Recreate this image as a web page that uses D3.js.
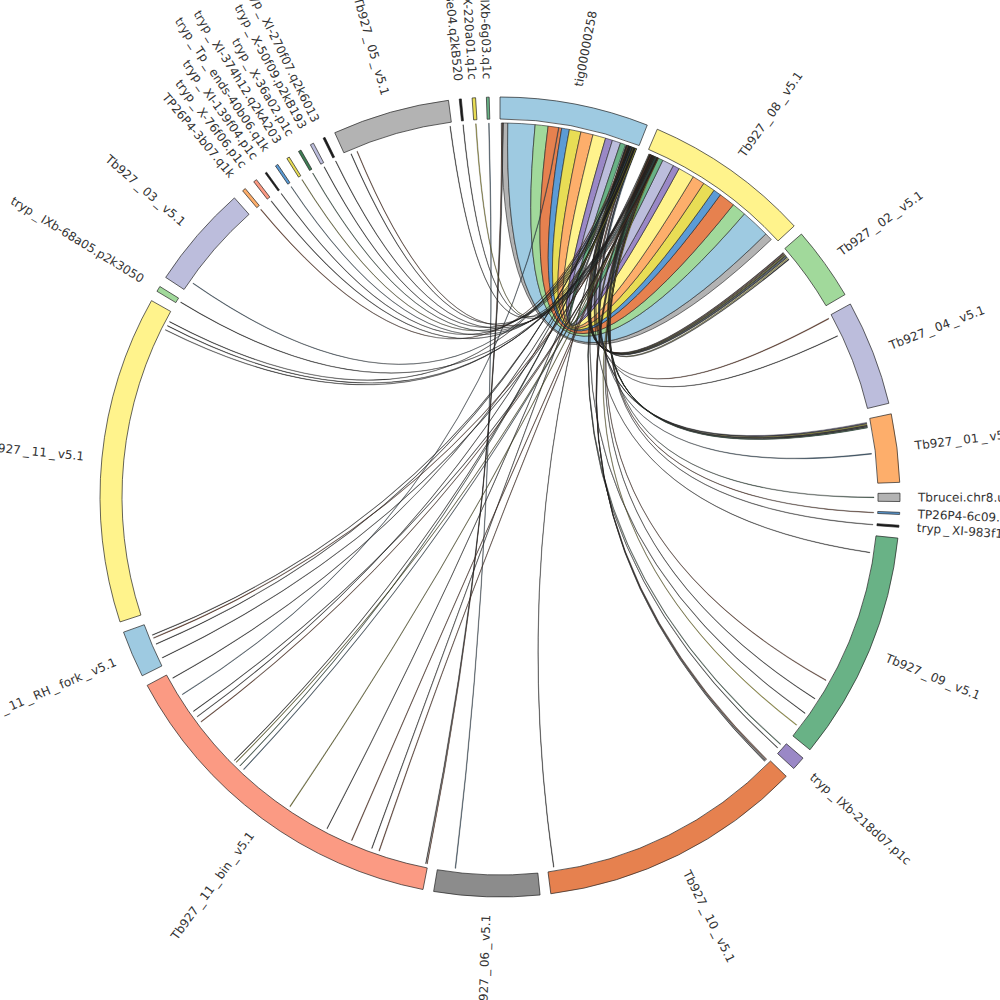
<!DOCTYPE html>
<meta charset="utf-8">
<script src="https://d3js.org/d3.v7.min.js"></script>
<style>
  body { margin: 0; background: #fff; }
  #my_dataviz svg { display: block; }
</style>
<div id="my_dataviz"></div>
<script>

    // contigs / chromosomes, clockwise from the top
    var groupNames = [
        "tig00000258", "Tb927_08_v5.1", "Tb927_02_v5.1", "Tb927_04_v5.1", "Tb927_01_v5.1",
        "Tbrucei.chr8.unitig_1", "TP26P4-6c09.q1k", "tryp_XI-983f12.p1c", "Tb927_09_v5.1",
        "tryp_IXb-218d07.p1c", "Tb927_10_v5.1", "Tb927_06_v5.1", "Tb927_11_bin_v5.1",
        "Tb927_11_RH_fork_v5.1", "Tb927_11_v5.1", "tryp_IXb-68a05.p2k3050", "Tb927_03_v5.1",
        "TP26P4-3b07.q1k", "tryp_X-76f06.p1c", "tryp_XI-139f04.p1c", "tryp_Tp_ends-40b06.q1k",
        "tryp_XI-374h12.q2kA203", "tryp_X-36a02.p1c", "tryp_X-50f09.p2kB193", "tryp_XI-270f07.q2k6013",
        "Tb927_05_v5.1", "tryp_XI-158e04.q2kB520", "tryp_X-220a01.q1c", "tryp_IXb-6g03.q1c"
    ];

    // lengths in kb
    var groupLengths = [
        2160, 2420, 1070, 1530, 990,
        120, 30, 30, 3330,
        200, 3840, 1530, 5080,
        680, 4760, 80, 1510,
        50, 50, 25, 40,
        40, 40, 50, 30,
        1700, 30, 50, 40
    ];

    var groupColorKeys = [
        "lblue", "pyellow", "lgreen", "lavender", "lorange",
        "gray", "blue", "black", "green",
        "purple", "orange", "dgray", "salmon",
        "lblue", "pyellow", "lgreen", "lavender",
        "lorange", "salmon", "black", "blue",
        "yellow", "dgreen", "lavender", "black",
        "gray", "black", "yellow", "green"
    ];

    // big alignment blocks tig00000258 <-> Tb927_08 : [tigFrom, tigTo, tb08From, tb08To, colour]
    var bigLinks = [
        [20, 120, 2215, 2335, "gray"],
        [120, 540, 1765, 2215, "lblue"],
        [540, 740, 1545, 1765, "lgreen"],
        [740, 950, 1295, 1545, "orange"],
        [950, 1070, 1175, 1295, "blue"],
        [1070, 1250, 985, 1175, "yellow"],
        [1250, 1440, 795, 985, "lorange"],
        [1440, 1640, 545, 795, "pyellow"],
        [1640, 1750, 445, 545, "purple"],
        [1750, 1880, 265, 445, "lavender"],
        [1880, 1960, 185, 265, "green"]
    ];

    // small hits : [sourceGroup, sourcePos, targetGroup, targetPos, length, colour]
    var thinLinks = [
        [0, 1975, 2, 30, 10, "dk"], [0, 1990, 2, 45, 10, "br"], [0, 2005, 2, 60, 10, "dk"],
        [0, 2020, 2, 75, 12, "ol"], [0, 2035, 2, 90, 10, "dk"], [0, 2050, 2, 105, 10, "bl"],
        [0, 2065, 2, 120, 10, "dk"], [1, 40, 2, 140, 10, "ye"], [1, 55, 2, 160, 12, "dk"],
        [0, 2080, 3, 30, 12, "br"], [0, 2095, 3, 330, 8, "dk"],
        [0, 2110, 4, 50, 12, "la"], [0, 2120, 4, 65, 10, "dk"], [1, 70, 4, 80, 12, "ye"],
        [1, 85, 4, 95, 10, "dk"], [1, 100, 4, 110, 10, "dk"], [1, 115, 4, 125, 10, "gr"],
        [0, 2130, 4, 530, 12, "bl"],
        [1, 130, 5, 55, 10, "gr"], [1, 140, 6, 15, 8, "br"], [1, 150, 7, 15, 8, "gy"],
        [0, 1970, 8, 260, 8, "dk"], [1, 160, 8, 2340, 10, "br"], [1, 170, 8, 2670, 8, "dk"],
        [0, 1985, 8, 2940, 8, "dk"], [1, 180, 8, 3160, 10, "ye"],
        [0, 2000, 9, 60, 10, "gr"], [0, 2015, 9, 130, 8, "dk"],
        [1, 45, 10, 20, 10, "br"], [1, 60, 10, 40, 8, "dk"], [1, 75, 10, 60, 8, "dk"],
        [0, 2030, 10, 3740, 8, "dk"],
        [28, 20, 11, 1255, 10, "bl"],
        [0, 30, 12, 10, 8, "br"], [0, 45, 12, 30, 8, "dk"], [1, 90, 12, 770, 10, "br"],
        [0, 2045, 12, 890, 8, "dk"], [1, 105, 12, 1220, 10, "br"], [0, 2060, 12, 1640, 8, "dk"],
        [1, 120, 12, 2300, 10, "ol"], [1, 135, 12, 3210, 10, "bl"], [0, 2075, 12, 3290, 8, "gr"],
        [1, 150, 12, 3370, 8, "ol"], [0, 2090, 12, 3410, 8, "dk"], [1, 165, 12, 4190, 10, "br"],
        [0, 2105, 12, 4290, 8, "dk"], [1, 175, 12, 4390, 8, "dk"], [0, 2120, 12, 4990, 8, "dk"],
        [0, 900, 12, 4700, 8, "bl"],
        [1, 50, 13, 105, 8, "dk"], [0, 2010, 13, 335, 8, "dk"], [1, 65, 13, 435, 10, "br"],
        [0, 2025, 13, 485, 8, "dk"],
        [1, 80, 14, 4470, 8, "dk"], [1, 95, 14, 4540, 8, "dk"], [0, 2040, 14, 4610, 8, "dk"],
        [1, 110, 15, 40, 8, "dk"], [0, 2055, 16, 150, 8, "bl"],
        [0, 1995, 17, 25, 10, "br"], [1, 125, 18, 25, 10, "dk"], [0, 2070, 19, 12, 8, "dk"],
        [1, 145, 20, 17, 8, "bl"], [0, 2085, 21, 20, 8, "ol"], [1, 155, 22, 17, 8, "gr"],
        [0, 2100, 23, 22, 8, "dk"], [1, 170, 24, 15, 8, "dk"],
        [0, 2115, 25, 90, 8, "dk"], [1, 185, 25, 190, 8, "br"], [0, 2135, 25, 1670, 8, "dk"],
        [1, 30, 26, 15, 8, "dk"], [0, 2125, 27, 25, 10, "ye"]
    ];

    var palette = {
        lblue: "#9ecae1", pyellow: "#fff38c", lgreen: "#a1d99b", lavender: "#bcbddc",
        lorange: "#fdae6b", gray: "#b3b3b3", blue: "#5b9bd5", black: "#1a1a1a",
        green: "#69b286", purple: "#9a88c6", orange: "#e6814f", dgray: "#8c8c8c",
        salmon: "#fb9a83", yellow: "#e8dd55", dgreen: "#3f7f55",
        dk: "#2b2b2b", br: "#8c4a2f", ol: "#9a9a30", bl: "#4f7490", gr: "#3f6e55",
        ye: "#d8cf3a", gy: "#777777", la: "#8d86b5"
    };

    // set the dimensions of the graph
    var width = 1000, height = 1000,
        cx = 500, cy = 497,
        outerR = 400, innerR = 378, ribbonR = 374, labelR = 418,
        pad = 1.55 * Math.PI / 180;

    var svg = d3.select("#my_dataviz")
        .append("svg")
        .attr("width", width)
        .attr("height", height)
        .append("g")
        .attr("transform", "translate(" + cx + "," + cy + ")");

    // lay the groups round the circle, one angle scale per group
    var k = (2 * Math.PI - pad * groupNames.length) / d3.sum(groupLengths);
    var groups = [];
    var a = 0;
    groupNames.forEach(function (name, i) {
        var s = a, e = a + groupLengths[i] * k;
        groups.push({
            name: name, index: i, startAngle: s, endAngle: e,
            scale: d3.scaleLinear().domain([0, groupLengths[i]]).range([s, e])
        });
        a = e + pad;
    });

    var arc = d3.arc().innerRadius(innerR).outerRadius(outerR);
    var ribbon = d3.ribbon().radius(ribbonR);

    // group blocks
    svg.append("g")
        .selectAll("path")
        .data(groups)
        .enter()
        .append("path")
        .attr("d", arc)
        .style("fill", function (d) { return palette[groupColorKeys[d.index]]; })
        .style("stroke", "#222")
        .style("stroke-width", 0.7);

    // big ribbons
    svg.append("g")
        .selectAll("path")
        .data(bigLinks)
        .enter()
        .append("path")
        .attr("d", function (d) {
            return ribbon({
                source: { startAngle: groups[0].scale(d[0]), endAngle: groups[0].scale(d[1]) },
                target: { startAngle: groups[1].scale(d[2]), endAngle: groups[1].scale(d[3]) }
            });
        })
        .style("fill", function (d) { return palette[d[4]]; })
        .style("stroke", "#222")
        .style("stroke-width", 0.6);

    // thin hits
    svg.append("g")
        .selectAll("path")
        .data(thinLinks)
        .enter()
        .append("path")
        .attr("d", function (d) {
            var gs = groups[d[0]], gt = groups[d[2]];
            return ribbon({
                source: { startAngle: gs.scale(d[1]), endAngle: gs.scale(d[1] + d[4]) },
                target: { startAngle: gt.scale(d[3]), endAngle: gt.scale(d[3] + d[4]) }
            });
        })
        .style("fill", function (d) { return palette[d[5]]; })
        .style("stroke", "#1a1a1a")
        .style("stroke-width", 0.35);

    // labels, reading outward, flipped on the left half
    var labels = svg.append("g")
        .selectAll("text")
        .data(groups)
        .enter()
        .append("text")
        .attr("transform", function (d) {
            var m = (d.startAngle + d.endAngle) / 2;
            return "rotate(" + (m * 180 / Math.PI - 90) + ")translate(" + labelR + ",0)" +
                (m > Math.PI ? "rotate(180)" : "");
        })
        .attr("text-anchor", function (d) {
            return (d.startAngle + d.endAngle) / 2 > Math.PI ? "end" : "start";
        })
        .attr("dy", "0.35em")
        .style("font-family", "'DejaVu Sans', sans-serif")
        .style("font-size", "12px")
        .style("fill", "#333");

    // the plot font spaces the underscores out a bit
    labels.each(function (d) {
        var t = d3.select(this);
        var parts = d.name.split("_");
        parts.forEach(function (p, i) {
            if (i > 0) t.append("tspan").attr("dx", 2.5).text("_");
            t.append("tspan").attr("dx", i > 0 ? 2.5 : 0).text(p);
        });
    });

</script>
